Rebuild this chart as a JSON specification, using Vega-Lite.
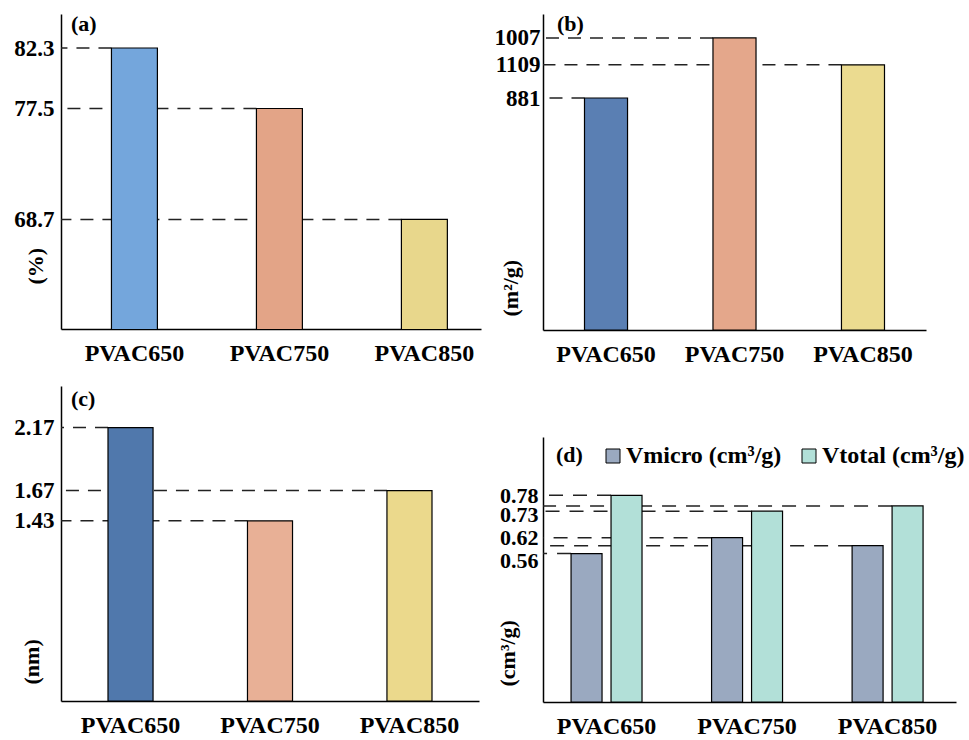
{
  "$schema": "https://vega.github.io/schema/vega-lite/v6.json",
  "background": "white",
  "padding": {"left": 13, "top": 13, "right": 0, "bottom": 0},
  "config": {
    "font": "Liberation Serif",
    "view": {"stroke": null},
    "axis": {
      "labelFont": "Liberation Serif", "labelFontWeight": "bold", "labelColor": "black", "labelFontSize": 23,
      "titleFont": "Liberation Serif", "titleFontWeight": "bold", "titleColor": "black", "titleFontSize": 22,
      "domainColor": "black", "domainWidth": 1.5, "ticks": false, "grid": false
    },
    "axisX": {"labelPadding": 12, "labelAngle": 0, "title": null, "labelFontSize": 24},
    "axisY": {"titleAngle": -90, "titleAlign": "left", "titleBaseline": "alphabetic", "labelOverlap": false},
    "title": {"font": "Liberation Serif", "fontWeight": "bold", "fontSize": 22, "anchor": "start", "color": "black", "frame": "group"}
  },
  "spacing": 13,
  "resolve": {"scale": {"color": "independent"}, "legend": {"color": "independent"}},
  "hconcat": [
    {
      "spacing": 21,
      "resolve": {"scale": {"color": "independent"}, "legend": {"color": "independent"}},
      "vconcat": [
        {
          "width": 420, "height": 315,
          "title": {"text": "(a)", "offset": -22, "dx": 10},
          "data": {"values": [
            {"cat": "PVAC650", "v": 82.3},
            {"cat": "PVAC750", "v": 77.5},
            {"cat": "PVAC850", "v": 68.7}
          ]},
          "layer": [
            {
              "mark": {"type": "rule", "strokeDash": [13, 9], "strokeWidth": 1.5, "color": "#222"},
              "encoding": {
                "y": {"field": "v", "type": "quantitative"},
                "x": {"field": "cat", "type": "nominal", "sort": null, "bandPosition": 0},
                "x2": {"value": 0}
              }
            },
            {
              "mark": {"type": "bar", "stroke": "black", "strokeWidth": 1.2, "clip": true},
              "encoding": {
                "x": {"field": "cat", "type": "nominal", "sort": null, "scale": {"paddingInner": 0.683, "paddingOuter": 0.29, "align": 0.6}},
                "y": {"field": "v", "type": "quantitative", "scale": {"domain": [60, 85], "nice": false, "zero": false},
                  "axis": {"values": [68.7, 77.5, 82.3], "format": ".1f", "title": "(%)", "titleX": -19, "titleY": 270, "labelPadding": 7}},
                "color": {"field": "cat", "type": "nominal", "legend": null, "scale": {"range": ["#74a6dc", "#e3a487", "#e8d78c"]}}
              }
            }
          ]
        },
        {
          "width": 418, "height": 315,
          "title": {"text": "(c)", "offset": -25, "dx": 10},
          "data": {"values": [
            {"cat": "PVAC650", "v": 2.17},
            {"cat": "PVAC750", "v": 1.43},
            {"cat": "PVAC850", "v": 1.67}
          ]},
          "layer": [
            {
              "mark": {"type": "rule", "strokeDash": [13, 9], "strokeWidth": 1.5, "color": "#222"},
              "encoding": {
                "y": {"field": "v", "type": "quantitative"},
                "x": {"field": "cat", "type": "nominal", "sort": null, "bandPosition": 0},
                "x2": {"value": 0}
              }
            },
            {
              "mark": {"type": "bar", "stroke": "black", "strokeWidth": 1.2},
              "encoding": {
                "x": {"field": "cat", "type": "nominal", "sort": null, "scale": {"paddingInner": 0.677, "paddingOuter": 0.337, "align": 0.5}},
                "y": {"field": "v", "type": "quantitative", "scale": {"domain": [0, 2.5], "nice": false},
                  "axis": {"values": [1.43, 1.67, 2.17], "format": ".2f", "title": "(nm)", "titleX": -23, "titleY": 298, "labelPadding": 7}},
                "color": {"field": "cat", "type": "nominal", "legend": null, "scale": {"range": ["#5078ac", "#e8b096", "#ebd98c"]}}
              }
            }
          ]
        }
      ]
    },
    {
      "spacing": 71,
      "resolve": {"scale": {"color": "independent"}, "legend": {"color": "independent"}},
      "vconcat": [
        {
          "width": 383, "height": 316,
          "title": {"text": "(b)", "offset": -22, "dx": 14},
          "data": {"values": [
            {"cat": "PVAC650", "v": 881},
            {"cat": "PVAC750", "v": 1109},
            {"cat": "PVAC850", "v": 1007}
          ]},
          "layer": [
            {
              "mark": {"type": "rule", "strokeDash": [13, 9], "strokeWidth": 1.5, "color": "#222"},
              "encoding": {
                "y": {"field": "v", "type": "quantitative"},
                "x": {"field": "cat", "type": "nominal", "sort": null, "bandPosition": 0},
                "x2": {"value": 0}
              }
            },
            {
              "mark": {"type": "bar", "stroke": "black", "strokeWidth": 1.2},
              "encoding": {
                "x": {"field": "cat", "type": "nominal", "sort": null, "scale": {"paddingInner": 0.665, "paddingOuter": 0.323, "align": 0.5}},
                "y": {"field": "v", "type": "quantitative", "scale": {"domain": [0, 1200], "nice": false},
                  "axis": {"values": [881, 1007, 1109], "format": "d",
                    "labelExpr": "datum.value == 1109 ? '1007' : datum.value == 1007 ? '1109' : datum.label",
                    "title": "(m²/g)", "titleX": -26, "titleY": 302, "labelPadding": 3}},
                "color": {"field": "cat", "type": "nominal", "legend": null, "scale": {"range": ["#5a7fb3", "#e4a78b", "#ebdb90"]}}
              }
            }
          ]
        },
        {
          "width": 413, "height": 265,
          "title": {"text": "(d)", "offset": -30, "dx": 13},
          "data": {"values": [
            {"cat": "PVAC650", "s": "Vmicro (cm³/g)", "v": 0.56},
            {"cat": "PVAC650", "s": "Vtotal (cm³/g)", "v": 0.78},
            {"cat": "PVAC750", "s": "Vmicro (cm³/g)", "v": 0.62},
            {"cat": "PVAC750", "s": "Vtotal (cm³/g)", "v": 0.72},
            {"cat": "PVAC850", "s": "Vmicro (cm³/g)", "v": 0.59},
            {"cat": "PVAC850", "s": "Vtotal (cm³/g)", "v": 0.74}
          ]},
          "layer": [
            {
              "transform": [{"filter": "datum.s == 'Vmicro (cm³/g)'"}],
              "mark": {"type": "rule", "strokeDash": [14, 10], "strokeWidth": 1.5, "color": "#222"},
              "encoding": {
                "y": {"field": "v", "type": "quantitative"},
                "x": {"field": "cat", "type": "nominal", "sort": null, "bandPosition": 0},
                "x2": {"value": 0}
              }
            },
            {
              "transform": [{"filter": "datum.s == 'Vtotal (cm³/g)'"}],
              "mark": {"type": "rule", "strokeDash": [14, 10], "strokeWidth": 1.5, "color": "#222"},
              "encoding": {
                "y": {"field": "v", "type": "quantitative"},
                "x": {"field": "cat", "type": "nominal", "sort": null, "bandPosition": 0.563},
                "x2": {"value": 0}
              }
            },
            {
              "mark": {"type": "bar", "stroke": "black", "strokeWidth": 1.2},
              "encoding": {
                "x": {"field": "cat", "type": "nominal", "sort": null, "scale": {"paddingInner": 0.495, "paddingOuter": 0.217, "align": 0.46}},
                "xOffset": {"field": "s", "type": "nominal", "scale": {"paddingInner": 0.225, "paddingOuter": 0}},
                "y": {"field": "v", "type": "quantitative", "scale": {"domain": [0, 1], "nice": false},
                  "axis": {"values": [0.56, 0.62, 0.73, 0.78], "format": ".2f", "title": "(cm³/g)", "titleX": -29, "titleY": 249, "labelPadding": 5, "labelFontSize": 22,
                    "labelOffset": {"condition": [{"test": "datum.value == 0.73", "value": 6}, {"test": "datum.value == 0.56", "value": 7}], "value": 0}}},
                "color": {"field": "s", "type": "nominal", "scale": {"range": ["#9aa9c0", "#b2e0d8"]},
                  "legend": {"orient": "none", "legendX": 58, "legendY": 7, "direction": "horizontal", "title": null,
                    "labelFont": "Liberation Serif", "labelFontWeight": "bold", "labelFontSize": 24, "labelColor": "black",
                    "symbolType": "square", "symbolSize": 196, "symbolStrokeColor": "black", "symbolStrokeWidth": 1,
                    "columnPadding": 15, "labelOffset": 1}}
              }
            }
          ]
        }
      ]
    }
  ]
}
